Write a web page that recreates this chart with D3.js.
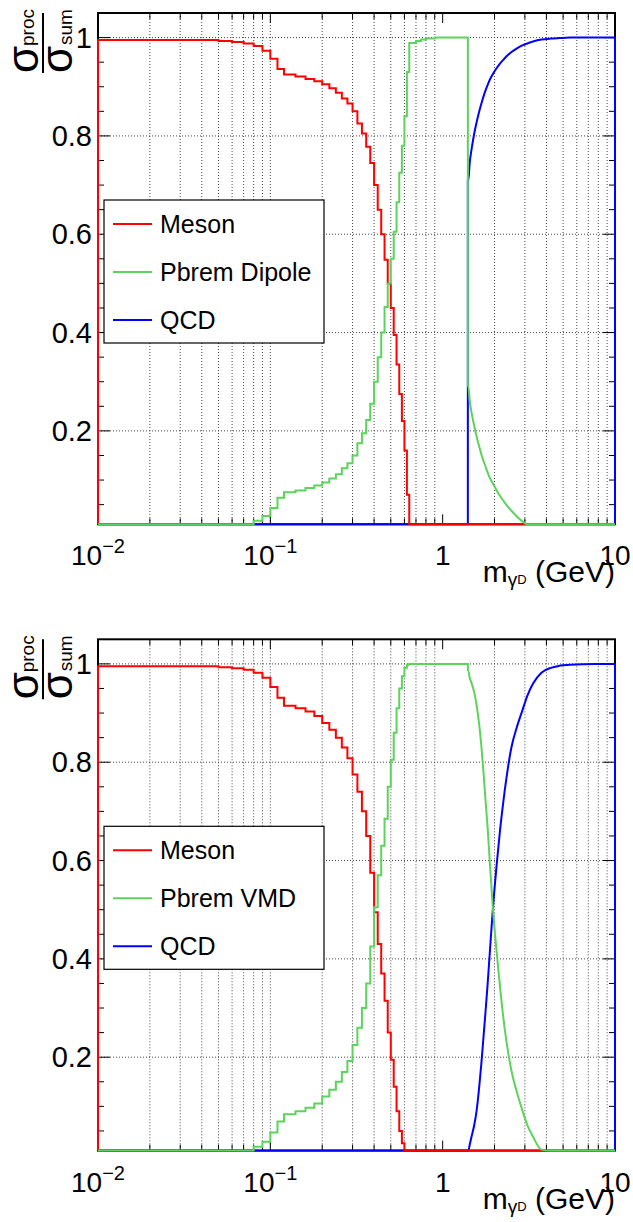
<!DOCTYPE html>
<html>
<head>
<meta charset="utf-8">
<script src="https://cdn.jsdelivr.net/npm/d3@7"></script>
<style>
  body { margin: 0; background: #fff; }
  text { font-family: "Liberation Sans", Arial, Helvetica, sans-serif; fill: #000; }
</style>
</head>
<body>
<svg id="chart" width="633" height="1222"></svg>
<script>
// bin edges in GeV (variable width, 65 bins)
const massEdges = [
  0.01, 0.05, 0.06, 0.07, 0.08, 0.09, 0.10, 0.11, 0.12, 0.14,
  0.16, 0.18, 0.20, 0.22, 0.24, 0.26, 0.28, 0.30, 0.32, 0.34,
  0.36, 0.38, 0.40, 0.42, 0.44, 0.46, 0.48, 0.50, 0.52, 0.54,
  0.56, 0.58, 0.60, 0.62, 0.64, 0.70, 0.75, 0.80, 0.90, 1.40,
  1.42, 1.45, 1.50, 1.55, 1.60, 1.65, 1.70, 1.75, 1.80, 1.85,
  1.90, 2.00, 2.10, 2.20, 2.30, 2.40, 2.60, 2.80, 3.00, 3.20,
  3.50, 4.00, 4.50, 5.00, 6.00, 10.0
];
// above this mass the fine binning looks like a smooth curve
const smoothFrom = 1.40;

// top panel: Pbrem Dipole
const mesonDipole = [
  0.995, 0.993, 0.991, 0.988, 0.983, 0.973, 0.957, 0.936, 0.925, 0.921,
  0.916, 0.911, 0.905, 0.897, 0.888, 0.876, 0.866, 0.850, 0.825, 0.805,
  0.778, 0.745, 0.700, 0.650, 0.600, 0.548, 0.500, 0.450, 0.395, 0.335,
  0.275, 0.220, 0.160, 0.070, 0, 0, 0, 0, 0, 0,
  0, 0, 0, 0, 0, 0, 0, 0, 0, 0,
  0, 0, 0, 0, 0, 0, 0, 0, 0, 0,
  0, 0, 0, 0, 0
];
const pbremDipole = [
  0, 0, 0, 0, 0.017, 0.027, 0.043, 0.064, 0.075, 0.079,
  0.084, 0.089, 0.095, 0.103, 0.112, 0.124, 0.134, 0.150, 0.175, 0.195,
  0.222, 0.255, 0.300, 0.350, 0.400, 0.452, 0.500, 0.550, 0.605, 0.665,
  0.725, 0.780, 0.840, 0.930, 0.989, 0.993, 0.996, 0.998, 1.000, 0.290,
  0.262, 0.235, 0.210, 0.188, 0.170, 0.153, 0.139, 0.127, 0.115, 0.105,
  0.094, 0.080, 0.068, 0.058, 0.049, 0.038, 0.026, 0.016, 0.008, 0.002,
  0, 0, 0, 0, 0
];
const qcdDipole = [
  0, 0, 0, 0, 0, 0, 0, 0, 0, 0,
  0, 0, 0, 0, 0, 0, 0, 0, 0, 0,
  0, 0, 0, 0, 0, 0, 0, 0, 0, 0,
  0, 0, 0, 0, 0, 0, 0, 0, 0, 0.710,
  0.745, 0.775, 0.805, 0.828, 0.848, 0.865, 0.880, 0.893, 0.904, 0.914,
  0.925, 0.937, 0.947, 0.955, 0.962, 0.970, 0.978, 0.984, 0.988, 0.992,
  0.996, 0.998, 0.999, 1.000, 1.000
];

// bottom panel: Pbrem VMD
const mesonVMD = [
  0.995, 0.993, 0.991, 0.988, 0.982, 0.972, 0.953, 0.931, 0.915, 0.910,
  0.903, 0.894, 0.880, 0.866, 0.850, 0.830, 0.808, 0.775, 0.740, 0.700,
  0.650, 0.575, 0.495, 0.430, 0.370, 0.315, 0.250, 0.195, 0.140, 0.090,
  0.050, 0.025, 0, 0, 0, 0, 0, 0, 0, 0,
  0, 0, 0, 0, 0, 0, 0, 0, 0, 0,
  0, 0, 0, 0, 0, 0, 0, 0, 0, 0,
  0, 0, 0, 0, 0
];
const pbremVMD = [
  0, 0, 0, 0, 0.018, 0.028, 0.047, 0.069, 0.084, 0.090,
  0.097, 0.106, 0.120, 0.134, 0.150, 0.170, 0.192, 0.225, 0.260, 0.300,
  0.350, 0.425, 0.505, 0.570, 0.630, 0.685, 0.750, 0.805, 0.860, 0.910,
  0.950, 0.975, 0.992, 0.998, 1.000, 1.000, 1.000, 1.000, 1.000, 0.985,
  0.972, 0.960, 0.942, 0.915, 0.880, 0.835, 0.780, 0.720, 0.665, 0.600,
  0.510, 0.420, 0.345, 0.280, 0.230, 0.175, 0.128, 0.092, 0.062, 0.038,
  0.012, 0, 0, 0, 0
];
const qcdVMD = [
  0, 0, 0, 0, 0, 0, 0, 0, 0, 0,
  0, 0, 0, 0, 0, 0, 0, 0, 0, 0,
  0, 0, 0, 0, 0, 0, 0, 0, 0, 0,
  0, 0, 0, 0, 0, 0, 0, 0, 0, 0.005,
  0.022, 0.040, 0.062, 0.092, 0.135, 0.185, 0.240, 0.295, 0.350, 0.410,
  0.495, 0.585, 0.660, 0.720, 0.770, 0.828, 0.872, 0.905, 0.935, 0.960,
  0.982, 0.992, 0.996, 0.998, 1.000
];

const yTicks = [0.2, 0.4, 0.6, 0.8, 1];
const yTickLabels = ["0.2", "0.4", "0.6", "0.8", "1"];
const xDecades = [0.01, 0.1, 1, 10];
const xTickBase = ["10", "10", "1", "10"];
const xTickExp = ["\u22122", "\u22121", "", ""];

const colors = { meson: "#ff0000", pbrem: "#5cd35c", qcd: "#0000ff" };

const svg = d3.select("#chart");
const xLeft = 98, xRight = 615, panelH = 511.3;
const x = d3.scaleLog().domain([0.01, 10]).range([xLeft, xRight]);

// log minor ticks 2..9 in every decade
const xMinor = xDecades.slice(0, 3).flatMap(d => d3.range(2, 10).map(k => +(d * k).toPrecision(3)));
const yMinor = d3.range(1, 21).map(i => +(i * 0.05).toFixed(2)).filter(v => !yTicks.includes(v));

const iSmooth = massEdges.indexOf(smoothFrom);
const lastEdge = massEdges[massEdges.length - 1];

// stepped outline up to 1.4 GeV
function stepPoints(values) {
  const pts = [[massEdges[0], 0]];
  for (let i = 0; i < iSmooth; i++) pts.push([massEdges[i], values[i]]);
  pts.push([massEdges[iSmooth], values[iSmooth]]);
  return pts;
}
// fine bins above 1.4 GeV drawn through bin centres
function smoothPoints(values) {
  const pts = [[massEdges[iSmooth], values[iSmooth]]];
  for (let i = iSmooth; i < values.length; i++) {
    pts.push([Math.sqrt(massEdges[i] * massEdges[i + 1]), values[i]]);
  }
  pts.push([lastEdge, values[values.length - 1]]);
  return pts;
}

function drawPanel(top, pbremLabel, meson, pbrem, qcd) {
  const bottom = top + panelH;
  const y = d3.scaleLinear().domain([0.01, 1.05]).range([bottom, top]);
  const clampY = v => y(Math.max(0.01, Math.min(1.05, v)));
  const g = svg.append("g");

  // grid
  const grid = g.append("g").attr("stroke", "#333").attr("stroke-width", 0.9)
    .attr("stroke-dasharray", "1,2");
  grid.selectAll(".gx").data(xMinor.concat([0.1])).join("line")
    .attr("x1", d => x(d)).attr("x2", d => x(d)).attr("y1", top).attr("y2", bottom);
  grid.selectAll(".gy").data(yTicks).join("line")
    .attr("x1", xLeft).attr("x2", xRight).attr("y1", d => y(d)).attr("y2", d => y(d));

  // ticks on all four sides, pointing inward
  const tk = g.append("g").attr("stroke", "#000").attr("stroke-width", 1);
  tk.selectAll(".ym").data(yTicks).join("line")
    .attr("x1", xLeft).attr("x2", xLeft + 12).attr("y1", d => y(d)).attr("y2", d => y(d));
  tk.selectAll(".yn").data(yMinor).join("line")
    .attr("x1", xLeft).attr("x2", xLeft + 6).attr("y1", d => y(d)).attr("y2", d => y(d));
  tk.selectAll(".ymr").data(yTicks).join("line")
    .attr("x1", xRight).attr("x2", xRight - 12).attr("y1", d => y(d)).attr("y2", d => y(d));
  tk.selectAll(".ynr").data(yMinor).join("line")
    .attr("x1", xRight).attr("x2", xRight - 6).attr("y1", d => y(d)).attr("y2", d => y(d));
  [[bottom, -1], [top, 1]].forEach(([yy, dir]) => {
    tk.append("g").selectAll("line").data(xDecades).join("line")
      .attr("x1", d => x(d)).attr("x2", d => x(d)).attr("y1", yy).attr("y2", yy + dir * 10);
    tk.append("g").selectAll("line").data(xMinor).join("line")
      .attr("x1", d => x(d)).attr("x2", d => x(d)).attr("y1", yy).attr("y2", yy + dir * 6);
  });

  // frame
  g.append("rect").attr("x", xLeft).attr("y", top).attr("width", xRight - xLeft).attr("height", panelH)
    .attr("fill", "none").attr("stroke", "#000").attr("stroke-width", 2);

  // histograms
  const stepLine = d3.line().x(d => x(d[0])).y(d => clampY(d[1])).curve(d3.curveStepAfter);
  const smoothLine = d3.line().x(d => x(d[0])).y(d => clampY(d[1])).curve(d3.curveMonotoneX);
  const edgeLine = d3.line().x(d => x(d[0])).y(d => clampY(d[1]));
  [[qcd, colors.qcd], [meson, colors.meson], [pbrem, colors.pbrem]].forEach(([vals, c]) => {
    const s = g.append("g").attr("fill", "none").attr("stroke", c).attr("stroke-width", 2);
    s.append("path").datum(stepPoints(vals)).attr("d", stepLine);
    s.append("path").datum(smoothPoints(vals)).attr("d", smoothLine);
    s.append("path").datum([[lastEdge, vals[vals.length - 1]], [lastEdge, 0]]).attr("d", edgeLine);
  });

  // y tick labels
  g.append("g").selectAll("text").data(yTicks).join("text")
    .attr("x", 92).attr("y", d => y(d)).attr("dy", "0.35em")
    .attr("text-anchor", "end").attr("font-size", 29)
    .text((d, i) => yTickLabels[i]);

  // x tick labels
  const xl = g.append("g").selectAll("text").data(xDecades).join("text")
    .attr("x", d => x(d)).attr("y", bottom + 41).attr("text-anchor", "middle").attr("font-size", 28);
  xl.append("tspan").text((d, i) => xTickBase[i]);
  xl.append("tspan").attr("dy", -12).attr("font-size", 20).text((d, i) => xTickExp[i]);

  // x title
  const xt = g.append("text").attr("x", xRight).attr("y", bottom + 58)
    .attr("text-anchor", "end").attr("font-size", 30);
  xt.append("tspan").text("m");
  xt.append("tspan").attr("dy", 4).attr("font-size", 19).text("\u03b3");
  xt.append("tspan").attr("dy", -2).attr("font-size", 13).text("D");
  xt.append("tspan").attr("dy", -2).text(" (GeV)");

  // y title: sigma_proc / sigma_sum
  const yt = g.append("g").attr("transform", `translate(43,${top + 60}) rotate(-90)`);
  yt.append("line").attr("x1", 0).attr("x2", 60).attr("y1", 0).attr("y2", 0)
    .attr("stroke", "#000").attr("stroke-width", 2);
  yt.append("text").attr("x", 0).attr("y", -5).attr("font-size", 44).text("\u03c3");
  yt.append("text").attr("x", 27).attr("y", -9).attr("font-size", 19).text("proc");
  yt.append("text").attr("x", 0).attr("y", 29).attr("font-size", 44).text("\u03c3");
  yt.append("text").attr("x", 28).attr("y", 29).attr("font-size", 19).text("sum");

  // legend
  const lg = g.append("g").attr("transform", `translate(104,${top + 187})`);
  lg.append("rect").attr("width", 220).attr("height", 143)
    .attr("fill", "#fff").attr("stroke", "#000").attr("stroke-width", 1.2);
  const entries = [["Meson", colors.meson], [pbremLabel, colors.pbrem], ["QCD", colors.qcd]];
  entries.forEach(([lab, c], i) => {
    const yy = 24 + i * 48;
    lg.append("line").attr("x1", 9).attr("x2", 48).attr("y1", yy).attr("y2", yy)
      .attr("stroke", c).attr("stroke-width", 2);
    lg.append("text").attr("x", 56).attr("y", yy + 9).attr("font-size", 25).text(lab);
  });
}

drawPanel(13, "Pbrem Dipole", mesonDipole, pbremDipole, qcdDipole);
drawPanel(639.3, "Pbrem VMD", mesonVMD, pbremVMD, qcdVMD);
</script>
</body>
</html>
